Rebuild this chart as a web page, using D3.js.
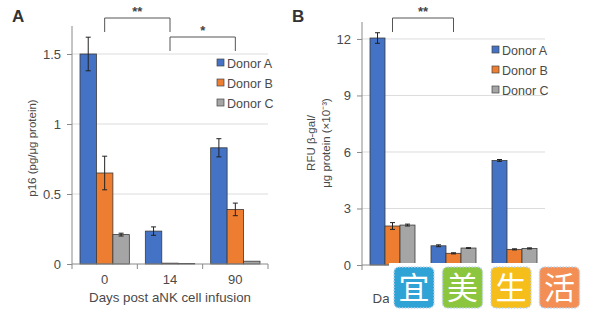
<!DOCTYPE html>
<html>
<head>
<meta charset="utf-8">
<script type="text/javascript" src="https://cdn.jsdelivr.net/npm/d3@7"></script>
<style>
  body { margin: 0; background: #fff; }
  text { font-family: "Liberation Sans", Arial, sans-serif; }
</style>
</head>
<body>
<div id="viz"></div>
<script type="text/javascript">
// data
var days = ["0", "14", "90"];
var donors = ["Donor A", "Donor B", "Donor C"];
var colors = ["#4472C4", "#ED7D31", "#A5A5A5"];

// panel A: p16 (pg/ug protein)
var p16A = [1.50, 0.235, 0.83];
var p16B = [0.65, 0.006, 0.39];
var p16C = [0.21, 0.004, 0.02];
var p16errA = [0.12, 0.03, 0.065];
var p16errB = [0.12, 0.002, 0.045];
var p16errC = [0.01, 0.001, 0.004];
var p16Ticks = [0, 0.5, 1, 1.5];

// panel B: RFU b-gal / ug protein (x10^-3)
var rfuA = [12.05, 1.02, 5.55];
var rfuB = [2.07, 0.62, 0.83];
var rfuC = [2.12, 0.90, 0.88];
var rfuErrA = [0.28, 0.05, 0.05];
var rfuErrB = [0.18, 0.03, 0.03];
var rfuErrC = [0.05, 0.02, 0.03];
var rfuTicks = [0, 3, 6, 9, 12];

var svg = d3.select("#viz").append("svg")
    .attr("width", 600)
    .attr("height", 322);

function panel(cfg) {
    var g = svg.append("g");
    var x = d3.scaleBand().domain(days).range([cfg.x0, cfg.x1]);
    var xi = d3.scaleBand().domain(donors).range([8, x.bandwidth() - 8]);
    var y = d3.scaleLinear().domain([0, cfg.ymax]).range([cfg.y0, cfg.y1]);

    // gridlines
    g.selectAll(".grid").data(cfg.ticks.filter(function (d) { return d > 0; }))
      .enter().append("line")
        .attr("x1", cfg.x0).attr("x2", cfg.x1)
        .attr("y1", function (d) { return y(d); })
        .attr("y2", function (d) { return y(d); })
        .style("stroke", "#dcdcdc").style("stroke-width", 1);

    // y axis
    var ya = g.append("g").attr("transform", "translate(" + cfg.x0 + ",0)")
        .call(d3.axisLeft(y).tickValues(cfg.ticks).tickSize(5).tickPadding(6)
            .tickFormat(d3.format("~g")));
    ya.select(".domain").style("stroke", "#8a8a8a");
    ya.selectAll(".tick line").style("stroke", "#8a8a8a");
    ya.selectAll("text").style("font-size", "13px").style("fill", "#4a4a4a")
        .style("font-family", "Liberation Sans, Arial, sans-serif");
    ya.select(".domain").attr("d", "M0," + cfg.y1 + "V" + cfg.y0);

    // bars
    var series = [cfg.a, cfg.b, cfg.c];
    var errs = [cfg.ea, cfg.eb, cfg.ec];
    var rows = [];
    days.forEach(function (day, i) {
        donors.forEach(function (dn, j) {
            rows.push({ day: day, donor: dn, j: j, v: series[j][i], e: errs[j][i] });
        });
    });
    g.selectAll(".bar").data(rows).enter().append("rect")
        .attr("x", function (d) { return x(d.day) + xi(d.donor); })
        .attr("width", xi.bandwidth())
        .attr("y", function (d) { return y(d.v); })
        .attr("height", function (d) { return y(0) - y(d.v); })
        .style("fill", function (d) { return colors[d.j]; })
        .style("stroke", "#3a3a3a").style("stroke-width", 0.8);

    // error bars
    var eb = g.selectAll(".err").data(rows.filter(function (d) { return d.v > 0.02 * cfg.ymax; }))
      .enter().append("g")
        .attr("transform", function (d) { return "translate(" + (x(d.day) + xi(d.donor) + xi.bandwidth() / 2) + ",0)"; })
        .style("stroke", "#222").style("stroke-width", 1);
    eb.append("line").attr("y1", function (d) { return y(d.v + d.e); }).attr("y2", function (d) { return y(d.v - d.e); });
    eb.append("line").attr("x1", -2.5).attr("x2", 2.5)
        .attr("y1", function (d) { return y(d.v + d.e); }).attr("y2", function (d) { return y(d.v + d.e); });
    eb.append("line").attr("x1", -2.5).attr("x2", 2.5)
        .attr("y1", function (d) { return y(d.v - d.e); }).attr("y2", function (d) { return y(d.v - d.e); });

    // x axis
    g.append("line").attr("x1", cfg.x0).attr("x2", cfg.x1)
        .attr("y1", y(0)).attr("y2", y(0)).style("stroke", "#8a8a8a");
    var bounds = [cfg.x0].concat(days.map(function (d) { return x(d) + x.bandwidth(); }));
    g.selectAll(".xt").data(bounds).enter().append("line")
        .attr("x1", function (d) { return d; }).attr("x2", function (d) { return d; })
        .attr("y1", y(0)).attr("y2", y(0) + 5).style("stroke", "#8a8a8a");
    g.selectAll(".xl").data(days).enter().append("text")
        .attr("x", function (d) { return x(d) + x.bandwidth() / 2; })
        .attr("y", y(0) + 20)
        .attr("text-anchor", "middle")
        .style("font-size", "13px").style("fill", "#4a4a4a")
        .text(function (d) { return d; });
    g.append("text")
        .attr("x", (cfg.x0 + cfg.x1) / 2).attr("y", y(0) + 38)
        .attr("text-anchor", "middle")
        .style("font-size", "13.3px").style("fill", "#4a4a4a")
        .text("Days post aNK cell infusion");

    // y title
    cfg.ytitle.forEach(function (t, k) {
        g.append("text")
            .attr("transform", "translate(" + (cfg.ytx + k * 15) + "," + cfg.yty + ") rotate(-90)")
            .attr("text-anchor", "middle")
            .style("font-size", "11.5px").style("fill", "#4a4a4a")
            .text(t);
    });

    // panel letter
    g.append("text").attr("x", cfg.letterX).attr("y", 22)
        .style("font-size", "17px").style("font-weight", "bold").style("fill", "#333")
        .text(cfg.letter);

    // legend
    var lg = g.selectAll(".lg").data(donors).enter().append("g")
        .attr("transform", function (d, i) { return "translate(" + cfg.lx + "," + (cfg.ly + i * 20) + ")"; });
    lg.append("rect").attr("x", 0).attr("y", -4).attr("width", 7).attr("height", 7)
        .style("fill", function (d, i) { return colors[i]; })
        .style("stroke", "#444").style("stroke-width", 0.7);
    lg.append("text").attr("x", 10).attr("y", 4.5)
        .style("font-size", "12.5px").style("fill", "#4a4a4a")
        .text(function (d) { return d; });

    // significance brackets
    cfg.sig.forEach(function (s) {
        var xa = x(s.from) + x.bandwidth() / 2, xb = x(s.to) + x.bandwidth() / 2;
        g.append("path")
            .attr("d", "M" + xa + "," + (s.top + 14) + "V" + s.top + "H" + xb + "V" + (s.top + 14))
            .style("fill", "none").style("stroke", "#555").style("stroke-width", 1);
        g.append("text").attr("x", (xa + xb) / 2).attr("y", s.top - 2)
            .attr("text-anchor", "middle")
            .style("font-size", "13px").style("font-weight", "bold").style("fill", "#444")
            .text(s.label);
    });
}

panel({
    x0: 72, x1: 268, y0: 264, y1: 26, ymax: 1.7, ticks: p16Ticks,
    a: p16A, b: p16B, c: p16C, ea: p16errA, eb: p16errB, ec: p16errC,
    ytitle: ["p16 (pg/\u03bcg protein)"], ytx: 36, yty: 148,
    letter: "A", letterX: 12, lx: 217, ly: 63,
    sig: [{ from: "0", to: "14", top: 18, label: "**" }, { from: "14", to: "90", top: 37, label: "*" }]
});

panel({
    x0: 362, x1: 545, y0: 265, y1: 22, ymax: 12.9, ticks: rfuTicks,
    a: rfuA, b: rfuB, c: rfuC, ea: rfuErrA, eb: rfuErrB, ec: rfuErrC,
    ytitle: ["RFU \u03b2-gal/", "\u03bcg protein (\u00d710\u207b\u00b3)"], ytx: 315, yty: 143,
    letter: "B", letterX: 292, lx: 492, ly: 50,
    sig: [{ from: "0", to: "14", top: 18, label: "**" }]
});

// watermark stamp over panel B
var wm = ["\u5b9c", "\u7f8e", "\u751f", "\u6d3b"];
var wmColors = ["#2fa3d6", "#8cc63e", "#f6be1a", "#f38f55"];
var stamp = svg.append("g");
stamp.append("rect").attr("x", 389).attr("y", 263).attr("width", 197).attr("height", 50).style("fill", "#fff");
var tile = stamp.selectAll(".tile").data(wm).enter().append("g")
    .attr("transform", function (d, i) { return "translate(" + (394 + i * 48.5) + ",267)"; });
tile.append("rect").attr("width", 40).attr("height", 41).attr("rx", 5)
    .style("fill", function (d, i) { return wmColors[i]; })
    .style("stroke", "#bcd3ea").style("stroke-width", 1.5).style("stroke-dasharray", "1.5,1.5");
tile.append("text").attr("x", 20).attr("y", 32)
    .attr("text-anchor", "middle")
    .style("font-family", "Noto Sans CJK SC").style("font-size", "31px").style("fill", "#fff")
    .text(function (d) { return d; });
</script>
</body>
</html>
